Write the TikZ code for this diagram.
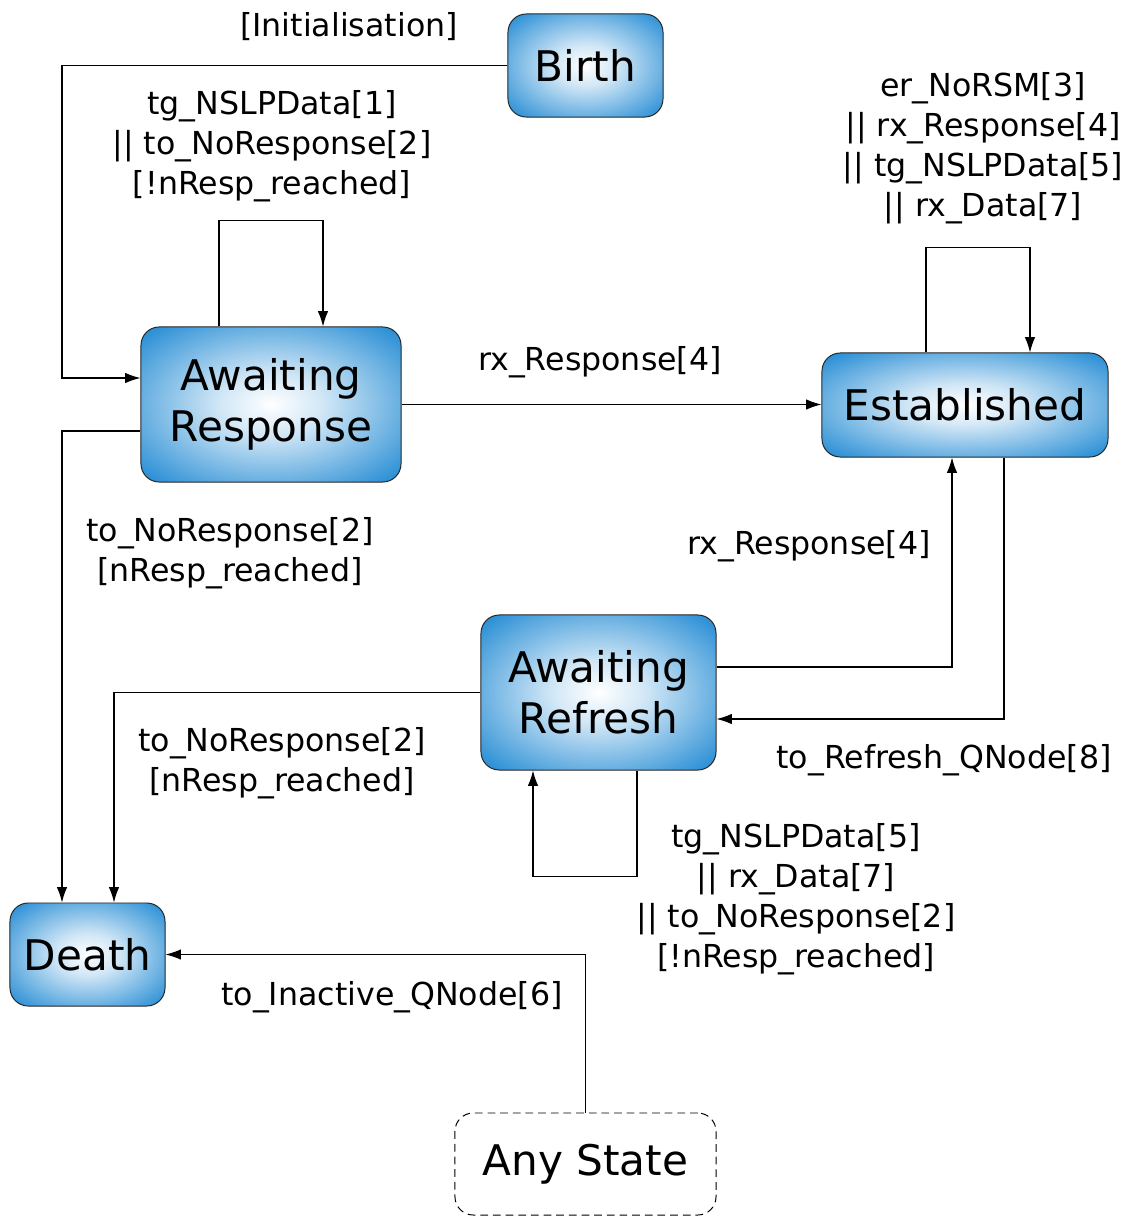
\documentclass[tikz,border=0pt]{standalone}
\usepackage{fontspec}
\setmainfont{DejaVu Sans}
\usetikzlibrary{arrows.meta}
\usetikzlibrary{calc}
\definecolor{stateblue}{RGB}{46,145,214}
\pgfdeclareradialshading{stateglow}{\pgfpoint{0bp}{0bp}}{color(0bp)=(white); color(10bp)=(white!78!stateblue); color(33bp)=(stateblue); color(50bp)=(stateblue)}

\begin{document}
\begin{tikzpicture}[x=0.025cm, y=-0.025cm, line width=0.8pt,
  state/.style={rectangle, rounded corners=13pt, draw=black!85, line width=0.7pt, shading=stateglow, inner sep=0pt, align=center, font=\fontsize{30}{36.3}\selectfont},
  anystate/.style={rectangle, rounded corners=13pt, draw=black, line width=0.7pt, dash pattern=on 5.5pt off 3.5pt, inner sep=0pt, font=\fontsize{30}{36.3}\selectfont},
  lbl/.style={inner sep=0pt, align=center, font=\fontsize{22.5}{28.5}\selectfont},
  edge/.style={-{Latex[length=11pt,width=7.5pt]}}]
\useasboundingbox (0,0) rectangle (1130,1217);

\node [state, minimum width=3.875cm, minimum height=2.575cm] (birth) at (585.5,65.5) {Birth};
\node [state, minimum width=6.5cm, minimum height=3.875cm] (resp) at (271,404.5) {Awaiting\\Response};
\node [state, minimum width=7.15cm, minimum height=2.6cm] (est) at (965,405) {Established};
\node [state, minimum width=5.875cm, minimum height=3.875cm] (refr) at (598.5,692.5) {Awaiting\\Refresh};
\node [state, minimum width=3.875cm, minimum height=2.575cm] (death) at (87.5,954.5) {Death};
\node [anystate, minimum width=6.525cm, minimum height=2.55cm] (any) at (585.5,1164) {Any State};

\node [lbl] (l1) at (349,27) {[Initialisation]};
\node [lbl] (l2) at (272,146) {tg\_NSLPData[1]\\|| to\_NoResponse[2]\\{[!nResp\_reached]}};
\node [lbl] (l3) at (983,148) {er\_NoRSM[3]\\|| rx\_Response[4]\\|| tg\_NSLPData[5]\\|| rx\_Data[7]};
\node [lbl] (l4) at (600,362) {rx\_Response[4]};
\node [lbl] (l5) at (230,553) {to\_NoResponse[2]\\{[nResp\_reached]}};
\node [lbl] (l6) at (809,546) {rx\_Response[4]};
\node [lbl] (l7) at (282,763) {to\_NoResponse[2]\\{[nResp\_reached]}};
\node [lbl] (l8) at (944,760) {to\_Refresh\_QNode[8]};
\node [lbl] (l9) at (796,899) {tg\_NSLPData[5]\\|| rx\_Data[7]\\|| to\_NoResponse[2]\\{[!nResp\_reached]}};
\node [lbl] (l10) at (392,997) {to\_Inactive\_QNode[6]};

\draw[edge] (birth.west) -| (62,378) -- ($(resp.west)+(0,-26.5)$);
\draw[edge] ($(resp.north)+(-52,0)$) -- ++(0,-106) -| ($(resp.north)+(52,0)$);
\draw[edge] (resp.east) -- (resp.east -| est.west);
\draw[edge] ($(resp.west)+(0,26.5)$) -| ($(death.north)+(-25.5,0)$);
\draw[edge] ($(est.north)+(-39,0)$) -- ++(0,-105) -| ($(est.north)+(65,0)$);
\draw[edge] ($(refr.east)+(0,-25.5)$) -| ($(est.south)+(-13,0)$);
\draw[edge] ($(est.south)+(39,0)$) |- ($(refr.east)+(0,26.5)$);
\draw[edge] (refr.west) -| ($(death.north)+(26.5,0)$);
\draw[edge] ($(refr.south)+(38.5,0)$) -- ++(0,106) -| ($(refr.south)+(-65.5,0)$);
\draw[edge] (any.north) |- (death.east);
\end{tikzpicture}
\end{document}
